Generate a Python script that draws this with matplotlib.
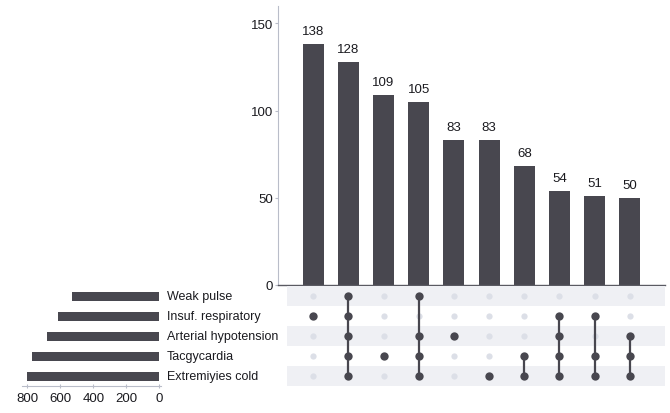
import matplotlib
matplotlib.use("Agg")
import matplotlib.pyplot as plt
from matplotlib.patches import Rectangle

plt.rcParams["font.family"] = ["Liberation Sans", "DejaVu Sans"]

set_names = ["Weak pulse", "Insuf. respiratory", "Arterial hypotension",
             "Tacgycardia", "Extremiyies cold"]
set_totals = [531, 616, 682, 770, 800]

intersection_sizes = [138, 128, 109, 105, 83, 83, 68, 54, 51, 50]
intersection_members = [
    ["Insuf. respiratory"],
    ["Weak pulse", "Insuf. respiratory", "Arterial hypotension", "Tacgycardia", "Extremiyies cold"],
    ["Tacgycardia"],
    ["Weak pulse", "Arterial hypotension", "Tacgycardia", "Extremiyies cold"],
    ["Arterial hypotension"],
    ["Extremiyies cold"],
    ["Tacgycardia", "Extremiyies cold"],
    ["Insuf. respiratory", "Arterial hypotension", "Tacgycardia", "Extremiyies cold"],
    ["Insuf. respiratory", "Tacgycardia", "Extremiyies cold"],
    ["Arterial hypotension", "Tacgycardia", "Extremiyies cold"],
]

BAR = "#48474f"
DOT_OFF = "#dcdfe7"
BAND = "#eff0f4"
SPINE = "#b9bdc9"
TXT = "#1a1a1f"

W, H = 670, 414
fig = plt.figure(figsize=(W / 100, H / 100), dpi=100)


def frac(x0, y0, x1, y1):
    # pixel box (top-left origin) -> figure fraction rect
    return [x0 / W, 1 - y1 / H, (x1 - x0) / W, (y1 - y0) / H]


ax_bar = fig.add_axes(frac(278, 7, 665, 286))
ax_mat = fig.add_axes(frac(278, 287, 665, 387))
ax_set = fig.add_axes(frac(22, 287, 161, 387))

n_cols = len(intersection_sizes)
n_rows = len(set_names)
xs = list(range(n_cols))

# intersection size bars
ax_bar.bar(xs, intersection_sizes, width=0.6, color=BAR, zorder=2)
for x, v in zip(xs, intersection_sizes):
    ax_bar.text(x, v + 4, str(v), ha="center", va="bottom", fontsize=9.5, color=TXT)
ax_bar.set_xlim(-1, 10)
ax_bar.set_ylim(0, 160)
ax_bar.set_yticks([0, 50, 100, 150])
ax_bar.set_xticks([])
for s in ["top", "right"]:
    ax_bar.spines[s].set_visible(False)
ax_bar.spines["left"].set_color(SPINE)
ax_bar.spines["left"].set_linewidth(0.8)
ax_bar.spines["bottom"].set_color("#5a5a62")
ax_bar.spines["bottom"].set_linewidth(1.0)
ax_bar.tick_params(axis="y", length=2.5, width=0.8, color=SPINE, labelsize=9.5,
                   labelcolor=TXT, pad=1)

# membership matrix
ax_mat.set_xlim(-1, 10)
ax_mat.set_ylim(n_rows - 0.5, -0.5)
for r in range(0, n_rows, 2):
    ax_mat.add_patch(Rectangle((-0.73, r - 0.5), 10.73, 1.0, color=BAND,
                               lw=0, zorder=0))
for x, members in zip(xs, intersection_members):
    rows_on = [set_names.index(m) for m in members]
    for r in range(n_rows):
        if r not in rows_on:
            ax_mat.plot(x, r, "o", ms=4.5, color=DOT_OFF, mec="none", zorder=1)
    if len(rows_on) > 1:
        ax_mat.plot([x, x], [min(rows_on), max(rows_on)], color=BAR, lw=1.6, zorder=2)
    ax_mat.plot([x] * len(rows_on), rows_on, "o", ms=6, color=BAR, mec="none", zorder=3)
ax_mat.axis("off")

# set size bars
ax_set.barh(range(n_rows), set_totals, height=0.45, color=BAR)
ax_set.set_ylim(n_rows - 0.5, -0.5)
ax_set.set_xlim(832, -10)
ax_set.set_xticks([800, 600, 400, 200, 0])
ax_set.set_yticks([])
for s in ["top", "right", "left"]:
    ax_set.spines[s].set_visible(False)
ax_set.spines["bottom"].set_color(SPINE)
ax_set.spines["bottom"].set_linewidth(0.8)
ax_set.tick_params(axis="x", direction="inout", length=3, width=0.8, color=SPINE,
                   labelsize=9.5, labelcolor=TXT, pad=3)
for r, name in enumerate(set_names):
    ax_set.text(1.04, r, name, transform=ax_set.get_yaxis_transform(),
                ha="left", va="center", fontsize=9, color=TXT)

fig.savefig("out.png", dpi=100)
